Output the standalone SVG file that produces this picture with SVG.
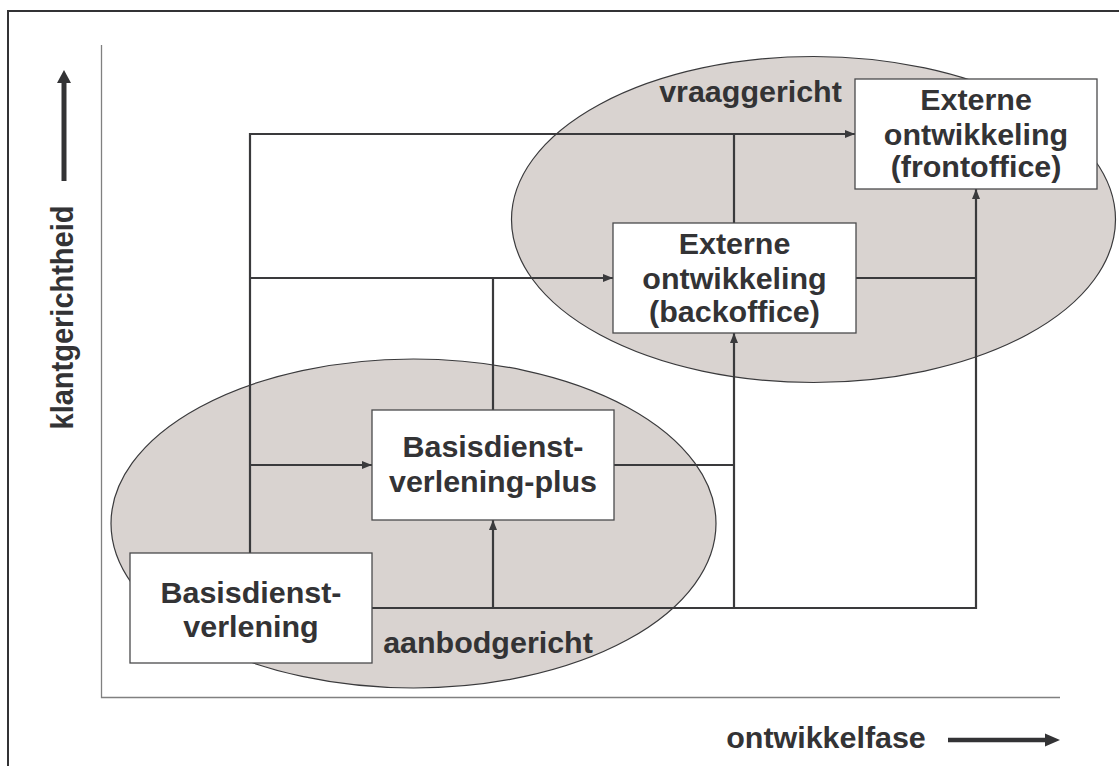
<svg xmlns="http://www.w3.org/2000/svg" width="1119" height="766" viewBox="0 0 1119 766">
<style>
.t{font-family:"Liberation Sans",Arial,sans-serif;font-weight:bold;font-size:29px;fill:#333335;text-anchor:middle}
.box{fill:#ffffff;stroke:#4a4a4c;stroke-width:1.3}
.ell{fill:#d9d3d0;stroke:#3a3a3c;stroke-width:1.2}
.c{fill:none;stroke:#3a3a3c;stroke-width:2.2}
.ax{fill:none;stroke:#808080;stroke-width:1.3}
</style>
<defs>
<marker id="ah" markerUnits="userSpaceOnUse" markerWidth="10" markerHeight="8" refX="10" refY="4" orient="auto">
<path d="M0,0 L10,4 L0,8 z" fill="#3a3a3c"/>
</marker>
</defs>
<rect x="0" y="0" width="1119" height="766" fill="#ffffff"/>
<path d="M8,780 V11 H1130" fill="none" stroke="#333335" stroke-width="2"/>
<g id="axes">
<path class="ax" d="M101.5,45 V697.5 H1060"/>
<path d="M64,181 V82" stroke="#333335" stroke-width="5" fill="none"/>
<polygon points="57,83 71,83 64,70" fill="#333335"/>
<path d="M948,740 H1046" stroke="#333335" stroke-width="4.5" fill="none"/>
<polygon points="1045,733.5 1060,740 1045,746.5" fill="#333335"/>
<text class="t" transform="translate(73,317.5) scale(1.05,1) rotate(-90)">klantgerichtheid</text>
<text class="t" transform="translate(826,748) scale(1.05,1)">ontwikkelfase</text>
</g>
<g id="clusters">
<ellipse class="ell" cx="413.5" cy="523.5" rx="302.5" ry="164.5"/>
<ellipse class="ell" cx="813.5" cy="219.5" rx="302" ry="163"/>
<text class="t" transform="translate(750.5,102) scale(1.05,1)">vraaggericht</text>
<text class="t" transform="translate(488,653) scale(1.05,1)">aanbodgericht</text>
</g>
<g id="connectors">
<path class="c" d="M250,553 V134 H855" marker-end="url(#ah)"/>
<path class="c" d="M250,278 H613" marker-end="url(#ah)"/>
<path class="c" d="M250,465 H372" marker-end="url(#ah)"/>
<path class="c" d="M493,410 V278"/>
<path class="c" d="M734,223 V134"/>
<path class="c" d="M614,465 H734"/>
<path class="c" d="M856,278 H976"/>
<path class="c" d="M372,608 H976 V189" marker-end="url(#ah)"/>
<path class="c" d="M493,608 V520" marker-end="url(#ah)"/>
<path class="c" d="M734,608 V333" marker-end="url(#ah)"/>
</g>
<g id="basis">
<rect class="box" x="130" y="553" width="242" height="110"/>
<text class="t" transform="translate(251,603) scale(1.05,1)">Basisdienst-</text>
<text class="t" transform="translate(251,637) scale(1.05,1)">verlening</text>
</g>
<g id="basis-plus">
<rect class="box" x="372" y="410" width="242" height="110"/>
<text class="t" transform="translate(493,457) scale(1.05,1)">Basisdienst-</text>
<text class="t" transform="translate(493,492) scale(1.05,1)">verlening-plus</text>
</g>
<g id="backoffice">
<rect class="box" x="613" y="223" width="243" height="110"/>
<text class="t" transform="translate(734.5,254) scale(1.05,1)">Externe</text>
<text class="t" transform="translate(734.5,289) scale(1.05,1)">ontwikkeling</text>
<text class="t" transform="translate(734.5,322) scale(1.05,1)">(backoffice)</text>
</g>
<g id="frontoffice">
<rect class="box" x="855" y="79" width="242" height="110"/>
<text class="t" transform="translate(976,110) scale(1.05,1)">Externe</text>
<text class="t" transform="translate(976,145) scale(1.05,1)">ontwikkeling</text>
<text class="t" transform="translate(976,177) scale(1.05,1)">(frontoffice)</text>
</g>
</svg>
